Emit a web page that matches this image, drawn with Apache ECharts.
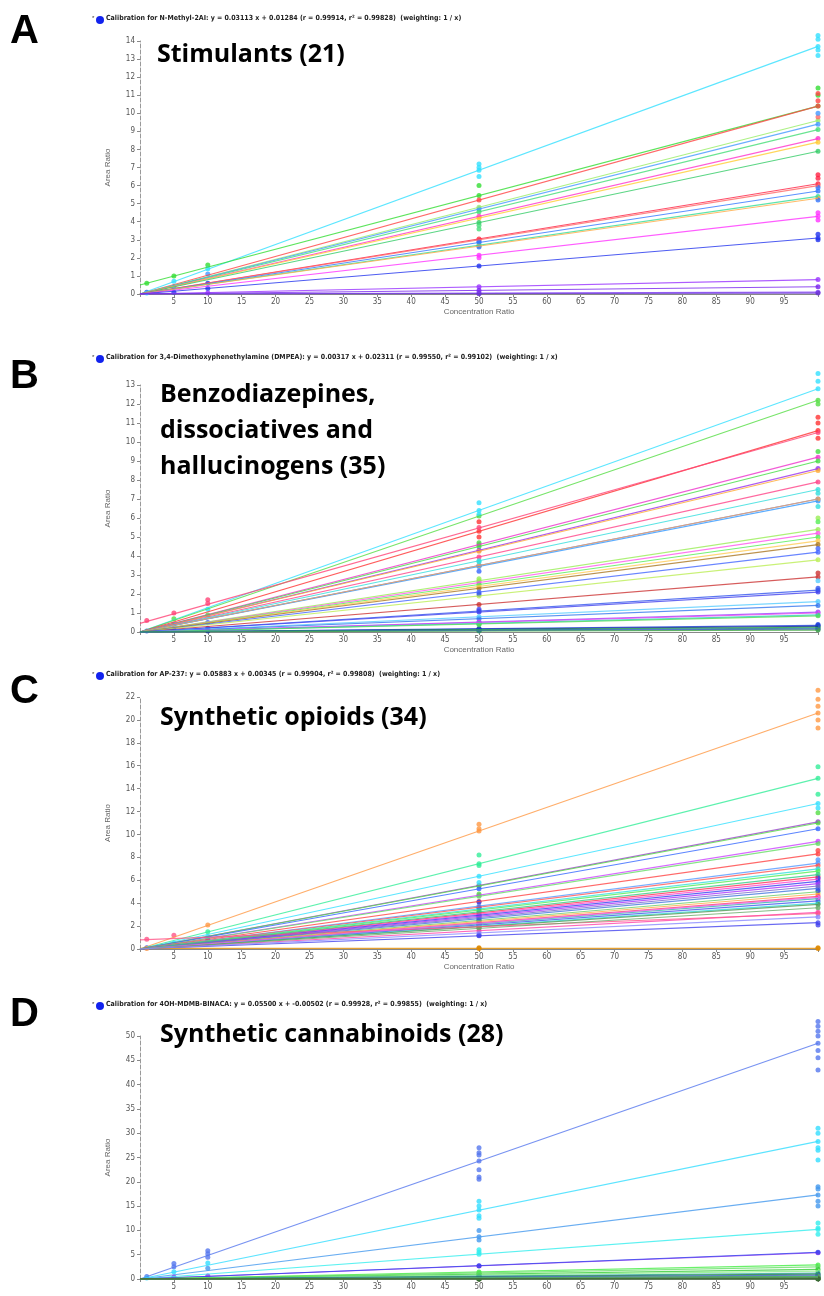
<!DOCTYPE html>
<html><head><meta charset="utf-8">
<script src="https://cdn.jsdelivr.net/npm/echarts@6/dist/echarts.min.js"></script>
<style>html,body{margin:0;background:#fff}#c{width:824px;height:1296px}</style>
</head><body><div id="c"></div>
<script>
// Panel A — Stimulants
const aEnd=[13.7,10.4,10.4,9.6,9.4,9.1,8.6,8.4,7.9,6.1,6.0,5.7,5.4,5.3,4.3,3.1,0.8,0.4,0.1,0.05];
const aStart=[0,0.5,0,0,0,0,0,0,0,0,0,0,0,0,0,0,0,0,0,0];
const aMid=[6.85,5.45,5.2,4.8,4.7,4.55,4.3,4.2,3.95,3.05,3.0,2.85,2.7,2.65,2.15,1.55,0.4,0.2,0.05,0.02];
const aCol=['#33e0ff','#33dd33','#ff4444','#99ee66','#4499ff','#44dd77','#ff33cc','#ffcc33','#33cc66','#ff2244','#ff6666','#3377ff','#33dd99','#ffaa44','#ff33ff','#2233ee','#9933ff','#7722ee','#8844ff','#6633cc'];
const aRep=[[100,13.2,0],[100,13.5,0],[100,14.3,0],[100,14.1,0],[100,11.4,1],[100,11.0,1],[100,10.7,2],[100,11.1,2],[100,9.8,10],[100,10.0,4],[100,6.6,9],[100,6.4,9],[100,5.2,11],[100,5.9,11],[100,4.5,14],[100,4.1,14],[100,3.3,15],[100,3.0,15],
 [50,7.2,0],[50,6.5,0],[50,7.0,0],[50,6.0,1],[50,3.6,5],[50,3.8,5],[50,2.6,11],[50,2.9,11],[50,2.0,14],
 [10,1.6,1],[10,1.4,0],[10,1.1,4],[10,0.6,15],[10,0.3,15],[10,0.05,16],[5,1.0,1],[5,0.7,0],[5,0.4,4],[5,0.1,15],[1,0.6,1],[1,0.1,15],[1,0.05,0]];
// Panel B — Benzodiazepines, dissociatives and hallucinogens
const bEnd=[12.8,12.2,10.6,10.5,9.2,9.0,8.6,8.5,7.9,7.5,7.0,6.9,7.0,5.4,5.2,5.0,4.8,4.6,4.2,3.8,2.9,2.2,2.1,1.6,1.4,1.05,1.0,0.9,0.85,0.35,0.3,0.25,0.2,0.15,0.1];
const bStart=[0,0,0,0.45,0,0,0,0,0,0,0,0,0,0,0,0,0,0,0,0,0,0,0,0,0,0,0,0,0,0,0,0,0,0,0];
const bMid=[6.4,6.1,5.3,5.5,4.6,4.5,4.3,4.25,3.95,3.75,3.5,3.45,3.5,2.7,2.6,2.5,2.4,2.3,2.1,1.9,1.45,1.1,1.05,0.8,0.7,0.52,0.5,0.45,0.42,0.18,0.15,0.12,0.1,0.08,0.05];
const bCol=['#33e0ff','#55dd44','#ff3333','#ff4477','#ee33cc','#44dd44','#9933ee','#ffaa33','#ff4488','#33dddd','#3366ff','#3399ff','#ffaa55','#99ee55','#ff55ee','#55ee55','#ffcc55','#aa7722','#4466ff','#bbee55','#cc3333','#3355ee','#4444ee','#55ccff','#3377ee','#9944ff','#ee44ee','#33cccc','#55dd55','#2244dd','#112299','#33bb33','#228888','#3355cc','#44aa44'];
const bRep=[[100,13.6,0],[100,13.2,0],[100,12.0,1],[100,11.3,2],[100,11.0,2],[100,10.2,2],[100,9.5,5],[100,7.3,9],[100,6.6,9],[100,6.0,13],[100,5.8,15],[100,4.4,18],[100,3.1,20],[100,2.7,23],[100,2.3,21],[100,0.4,29],
 [50,6.8,0],[50,6.2,0],[50,5.8,2],[50,5.0,2],[50,4.7,5],[50,3.7,9],[50,3.2,10],[50,2.8,13],[50,2.0,21],[50,1.2,22],[50,0.4,28],[50,0.1,29],
 [10,1.7,3],[10,1.5,3],[10,1.2,0],[10,0.9,1],[10,0.5,10],[10,0.2,21],[10,0.05,30],[5,1.0,3],[5,0.7,1],[5,0.4,10],[5,0.1,21],[1,0.6,3],[1,0.05,21]];
// Panel C — Synthetic opioids
const cEnd=[20.6,14.9,12.7,11.1,11.0,10.5,9.4,9.2,8.3,7.5,7.3,7.0,6.8,6.3,6.1,5.9,5.7,5.3,5.0,4.8,4.6,4.4,4.2,4.0,3.9,3.2,2.3,3.1,0.05,5.5,6.5,4.5,3.6,2.8];
const cStart=[0,0,0,0,0,0,0,0,0,0,0,0,0,0,0,0,0,0,0,0,0,0,0,0,0,0,0,0.8,0.05,0,0,0,0,0];
const cMid=[10.3,7.45,6.35,5.55,5.5,5.25,4.7,4.6,4.15,3.75,3.65,3.5,3.4,3.15,3.05,2.95,2.85,2.65,2.5,2.4,2.3,2.2,2.1,2.0,1.95,1.6,1.15,1.9,0.05,2.75,3.25,2.25,1.8,1.4];
const cCol=['#ff9944','#33ee99','#33e0ff','#9944cc','#55dd44','#3366ff','#cc44ff','#66dd66','#ff4444','#5599ff','#ff5555','#33dddd','#55ee55','#ff3355','#ff44cc','#3344ee','#aa33ff','#4477dd','#66cc66','#ffaa44','#ff4466','#33bbaa','#4455ee','#33dddd','#559955','#ff44aa','#4444ee','#ff5588','#dd8800','#7766cc','#33cc88','#ee66ee','#66aa66','#8888ff'];
const cRep=[[100,22.6,0],[100,21.8,0],[100,21.2,0],[100,20.0,0],[100,19.3,0],[100,15.9,1],[100,13.5,1],[100,12.3,2],[100,11.9,4],[100,8.6,8],[100,7.8,9],[100,6.2,15],[100,5.1,15],[100,2.1,26],[100,0.1,28],
 [50,10.9,0],[50,10.5,0],[50,8.2,1],[50,7.3,1],[50,5.8,2],[50,4.8,4],[50,4.1,15],[50,3.6,15],[50,2.5,15],[50,1.2,26],[50,0.1,28],
 [10,2.1,0],[10,1.5,1],[10,1.1,2],[10,0.8,15],[10,0.5,15],[5,1.2,27],[5,0.5,2],[5,0.3,15],[1,0.85,27],[1,0.1,15],[1,0.05,0]];
// Panel D — Synthetic cannabinoids
const dEnd=[48.5,28.3,17.3,10.2,5.4,5.5,2.9,2.5,2.0,1.6,1.2,1.0,0.8,0.6,0.5,0.4,0.35,0.3,0.25,0.2,0.15,0.12,0.1,0.08,0.06,0.05,0.03,0.02];
const dStart=[0,0,0,0,0,0,0,0,0,0,0,0,0,0,0,0,0,0,0,0,0,0,0,0,0,0,0,0];
const dMid=[24.3,14.2,8.7,5.1,2.7,2.75,1.45,1.25,1.0,0.8,0.6,0.5,0.4,0.3,0.25,0.2,0.18,0.15,0.12,0.1,0.08,0.06,0.05,0.04,0.03,0.02,0.02,0.01];
const dCol=['#5577ee','#33ddff','#4499ee','#33eeee','#9933ee','#3344ee','#44ee44','#66dd66','#33cc33','#88ee88','#33aaaa','#228833','#4466cc','#447799','#55bb55','#339944','#66cc99','#3377aa','#99cc33','#447744','#2255aa','#88aa44','#22aa66','#556699','#55aa55','#886622','#448844','#336633'];
const dRep=[[100,53,0],[100,52,0],[100,51,0],[100,50,0],[100,47,0],[100,45.5,0],[100,43,0],[100,31,1],[100,30,1],[100,27,1],[100,26.5,1],[100,24.5,1],[100,19,2],[100,18.5,2],[100,16,2],[100,15,2],[100,11.5,3],[100,10.5,3],[100,9.2,3],
 [50,27,0],[50,26,0],[50,25.5,0],[50,22.5,0],[50,21,0],[50,20.5,0],[50,16,1],[50,15,1],[50,13,1],[50,12.5,1],[50,10,2],[50,8,2],[50,6,3],[50,5.5,3],
 [10,5.8,0],[10,5.2,0],[10,4.5,0],[10,3.3,1],[10,2.2,2],[10,0.6,4],[5,3.2,0],[5,2.5,0],[5,1.5,1],[5,0.4,4],[1,0.5,0],[1,0.2,1]];
const xTicks=[5,10,15,20,25,30,35,40,45,50,55,60,65,70,75,80,85,90,95];

const panels=[
 {end:aEnd,start:aStart,mid:aMid,col:aCol,rep:aRep,top:41,bottom:1002,max:14,iv:1,xname:true},
 {end:bEnd,start:bStart,mid:bMid,col:bCol,rep:bRep,top:385,bottom:664,max:13,iv:1,xname:true},
 {end:cEnd,start:cStart,mid:cMid,col:cCol,rep:cRep,top:697,bottom:347,max:22,iv:2,xname:true},
 {end:dEnd,start:dStart,mid:dMid,col:dCol,rep:dRep,top:1036,bottom:17,max:50,iv:5,xname:false}
];
const grid=[],xAxis=[],yAxis=[],series=[];
const axisTxt={color:'#555',fontSize:8,fontFamily:'Liberation Sans Narrow, DejaVu Sans Condensed, sans-serif'};
panels.forEach((p,k)=>{
  grid.push({left:140,right:6,top:p.top,bottom:p.bottom});
  xAxis.push({type:'value',gridIndex:k,min:0,max:100,interval:5,
    name:p.xname?'Concentration Ratio':'',nameLocation:'middle',nameGap:14,nameTextStyle:{color:'#666',fontSize:8},
    axisLine:{lineStyle:{color:'#888'}},axisTick:{length:3,lineStyle:{color:'#888'}},splitLine:{show:false},
    axisLabel:Object.assign({margin:4,formatter:v=>xTicks.includes(v)?v:''},axisTxt)});
  yAxis.push({type:'value',gridIndex:k,min:0,max:p.max,interval:p.iv,
    name:'Area Ratio',nameLocation:'middle',nameGap:28,nameTextStyle:{color:'#666',fontSize:8},
    axisLine:{show:true,lineStyle:{color:'#999',type:'dashed'}},axisTick:{show:true,length:3,lineStyle:{color:'#888'}},splitLine:{show:false},
    axisLabel:Object.assign({margin:5},axisTxt)});
  p.end.forEach((e,i)=>{
    series.push({type:'line',xAxisIndex:k,yAxisIndex:k,showSymbol:false,silent:true,
      lineStyle:{width:1.2,color:p.col[i],opacity:0.8},data:[[0,p.start[i]],[100,e]]});
  });
  series.push({type:'scatter',xAxisIndex:k,yAxisIndex:k,symbolSize:5,clip:false,
    data:p.end.map((e,i)=>({value:[100,e],itemStyle:{color:p.col[i]}}))
      .concat(p.mid.map((m,i)=>({value:[50,m],itemStyle:{color:p.col[i]}})))
      .concat(p.rep.map(r=>({value:[r[0],r[1]],itemStyle:{color:p.col[r[2]]}})))});
});
const headers=[
 ['A',12,'Calibration for N-Methyl-2AI: y = 0.03113 x + 0.01284 (r = 0.99914, r² = 0.99828)  (weighting: 1 / x)',20],
 ['B',357,'Calibration for 3,4-Dimethoxyphenethylamine (DMPEA): y = 0.00317 x + 0.02311 (r = 0.99550, r² = 0.99102)  (weighting: 1 / x)',359],
 ['C',672,'Calibration for AP-237: y = 0.05883 x + 0.00345 (r = 0.99904, r² = 0.99808)  (weighting: 1 / x)',676],
 ['D',995,'Calibration for 4OH-MDMB-BINACA: y = 0.05500 x + -0.00502 (r = 0.99928, r² = 0.99855)  (weighting: 1 / x)',1006]
];
const graphic=[];
headers.forEach(h=>{
  graphic.push({type:'text',left:10,top:h[1],style:{text:h[0],font:'bold 40px "Liberation Sans", Arial, sans-serif',fill:'#000'}});
  graphic.push({type:'circle',shape:{cx:100,cy:h[3],r:4},style:{fill:'#1122ee'}});
  graphic.push({type:'text',left:92,top:h[3]-5,style:{text:'*',font:'6px sans-serif',fill:'#333'}});
  graphic.push({type:'text',left:106,top:h[3]-5,style:{text:h[2],font:'bold 7px "Liberation Sans Narrow", "DejaVu Sans Condensed", sans-serif',fill:'#222'}});
});
const tf='bold 25px "Liberation Sans Narrow", "Open Sans", sans-serif';
graphic.push({type:'text',left:157,top:42,style:{text:'Stimulants (21)',font:tf,fill:'#000'}});
graphic.push({type:'text',left:160,top:377,style:{text:'Benzodiazepines,\ndissociatives and\nhallucinogens (35)',font:tf,fill:'#000',lineHeight:36}});
graphic.push({type:'text',left:160,top:705,style:{text:'Synthetic opioids (34)',font:tf,fill:'#000'}});
graphic.push({type:'text',left:160,top:1022,style:{text:'Synthetic cannabinoids (28)',font:tf,fill:'#000'}});
const chart=echarts.init(document.getElementById('c'));
chart.setOption({animation:false,backgroundColor:'#fff',grid,xAxis,yAxis,series,graphic});
</script></body></html>
